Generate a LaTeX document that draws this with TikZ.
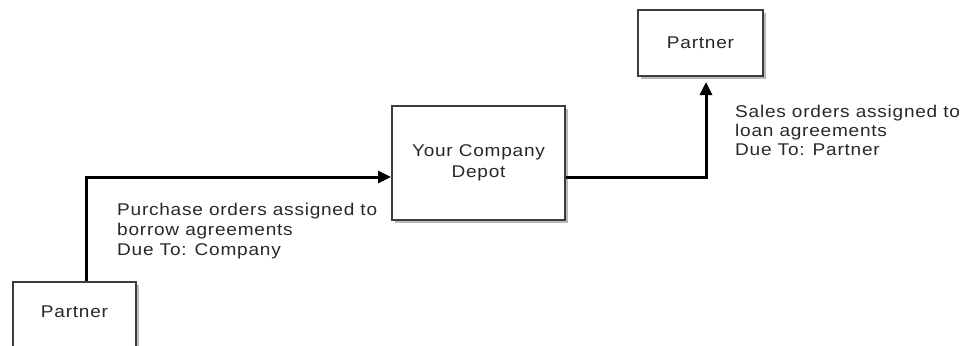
\documentclass[tikz,border=0pt]{standalone}
\usepackage{fontspec}
\setmainfont{Liberation Sans}[LetterSpace=4.5,FakeStretch=1.12]
\usetikzlibrary{arrows.meta,calc,shadows}
\definecolor{txt}{RGB}{40,40,40}
\definecolor{boxline}{RGB}{60,60,60}
\definecolor{shade}{RGB}{185,185,185}
\begin{document}
\begin{tikzpicture}[x=1pt,y=-1pt,
  box/.style={draw=boxline,line width=2pt,fill=white,inner sep=0pt,
    drop shadow={shadow xshift=3pt,shadow yshift=-3pt,fill=shade,opacity=1}},
  lbl/.style={text=txt,font=\fontsize{17}{20}\selectfont,inner sep=0pt},
  conn/.style={line width=3pt,black,-{Triangle[length=13pt,width=12pt]}}]
\useasboundingbox (0,0) rectangle (965,345);
\clip (0,0) rectangle (965,345);
% boxes
\node[box,minimum width=123pt,minimum height=78pt] (p1) at (74.5,321) {};
\node[lbl] (p1t) at (74.5,312) {Partner};
\node[box,minimum width=173pt,minimum height=114pt,lbl,align=center,
  font=\fontsize{17}{21}\selectfont] (depot) at (478.5,163) {Your Company\\Depot};
\node[box,minimum width=125pt,minimum height=66pt,lbl] (p2) at (700.5,43) {Partner};
% connectors
\draw[conn] ($(p1.north)+(11.5,0)$) |- ($(depot.west)+(0,14)$);
\draw[conn,shorten >=5pt] ($(depot.east)+(0,14)$) -| ($(p2.south)+(5.5,0)$);
% labels (base = baseline of last line)
\node[lbl,anchor=base west,align=left] (l1) at (117,255)
  {Purchase orders assigned to\\borrow agreements\\Due To: Company};
\node[lbl,anchor=base west,align=left,font=\fontsize{17}{19}\selectfont] (l2) at (735,155)
  {Sales orders assigned to\\loan agreements\\Due To: Partner};
\end{tikzpicture}
\end{document}
